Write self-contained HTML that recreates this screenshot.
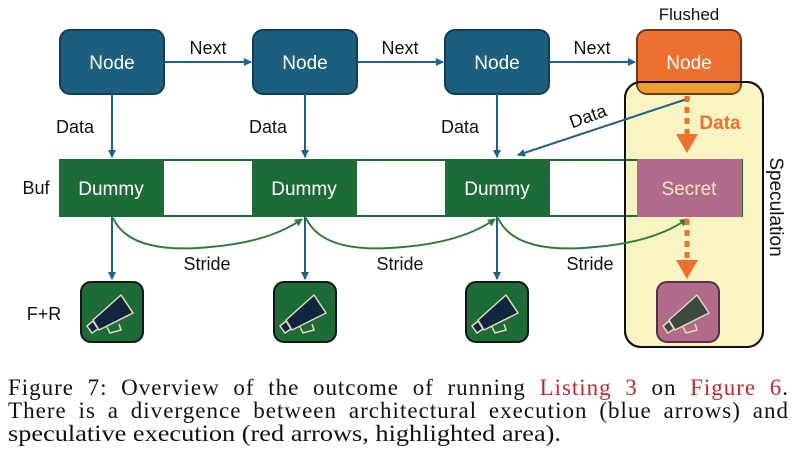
<!DOCTYPE html>
<html><head><meta charset="utf-8"><style>
html,body{margin:0;padding:0;background:#fff;}
svg{display:block;}
</style></head><body>
<svg width="796" height="471" viewBox="0 0 796 471" xmlns="http://www.w3.org/2000/svg" font-family="Liberation Sans, sans-serif">
<defs>
<marker id="ab" markerWidth="8" markerHeight="8" refX="7" refY="4" orient="auto" markerUnits="userSpaceOnUse"><path d="M0,0 L8,4 L0,8 z" fill="#1e6385"/></marker>
<marker id="ag" markerWidth="8" markerHeight="8" refX="7" refY="4" orient="auto" markerUnits="userSpaceOnUse"><path d="M0,0 L8,4 L0,8 z" fill="#2e7a3a"/></marker>
<g id="mega">
<polygon points="12,38 40,13 52,31 18,48" fill="#0f2540" stroke="#e8d9b8" stroke-width="1.5" stroke-linejoin="round"/>
<polygon points="6,44 12,39 17,47 11,51" fill="#0f2540" stroke="#e8d9b8" stroke-width="1.5"/>
<path d="M26,45 l3,6 l11,-3 l-2,-6" fill="none" stroke="#e8d9b8" stroke-width="1.5"/>
</g>
<g id="mega2">
<polygon points="12,38 40,13 52,31 18,48" fill="#3a4a42" stroke="#e8d9b8" stroke-width="1.5" stroke-linejoin="round"/>
<polygon points="6,44 12,39 17,47 11,51" fill="#3a4a42" stroke="#e8d9b8" stroke-width="1.5"/>
<path d="M26,45 l3,6 l11,-3 l-2,-6" fill="none" stroke="#e8d9b8" stroke-width="1.5"/>
</g>
</defs>

<rect x="625" y="82" width="138" height="265" rx="16" fill="#f8f5c3" stroke="#111" stroke-width="2"/>

<g stroke="#113d55" stroke-width="2">
<rect x="60" y="30" width="104" height="64" rx="10" fill="#1b5e7e"/>
<rect x="253" y="30" width="104" height="64" rx="10" fill="#1b5e7e"/>
<rect x="445" y="30" width="104" height="64" rx="10" fill="#1b5e7e"/>
</g>
<rect x="637" y="30" width="104" height="64" rx="10" fill="#ec7130" stroke="#6e3a1a" stroke-width="2"/>
<path d="M638,82 L740,82 L740,84 Q740,93 730,93 L648,93 Q638,93 638,84 Z" fill="#f19a30"/>
<rect x="625" y="82" width="138" height="265" rx="16" fill="none" stroke="#111" stroke-width="2"/>
<g fill="#fff" font-size="19" text-anchor="middle">
<text x="112" y="69">Node</text><text x="305" y="69">Node</text><text x="497" y="69">Node</text><text x="689" y="69">Node</text>
</g>
<text x="689" y="20" font-size="17" text-anchor="middle" fill="#111">Flushed</text>

<g stroke="#1e6385" stroke-width="2" marker-end="url(#ab)">
<line x1="164" y1="62" x2="251" y2="62"/>
<line x1="357" y1="62" x2="443" y2="62"/>
<line x1="549" y1="62" x2="635" y2="62"/>
</g>
<g font-size="18" fill="#111" text-anchor="middle">
<text x="208" y="54">Next</text><text x="400" y="54">Next</text><text x="592" y="54">Next</text>
<text x="75" y="133">Data</text><text x="268" y="133">Data</text><text x="460" y="133">Data</text>
<text x="207" y="270">Stride</text><text x="400" y="270">Stride</text><text x="590" y="270">Stride</text>
<text x="36" y="194">Buf</text><text x="44" y="320">F+R</text>
</g>
<text x="0" y="0" font-size="18" fill="#111" text-anchor="middle" transform="translate(590,122) rotate(-20)">Data</text>
<text x="0" y="0" font-size="19" fill="#111" text-anchor="middle" transform="translate(770,207) rotate(90)">Speculation</text>

<g stroke="#1e6385" stroke-width="2" marker-end="url(#ab)">
<line x1="112" y1="94" x2="112" y2="157"/>
<line x1="305" y1="94" x2="305" y2="157"/>
<line x1="497" y1="94" x2="497" y2="157"/>
<line x1="690" y1="98" x2="518" y2="155"/>
<line x1="112" y1="217" x2="112" y2="279"/>
<line x1="305" y1="217" x2="305" y2="279"/>
<line x1="497" y1="217" x2="497" y2="279"/>
</g>

<rect x="60" y="160" width="682" height="56" fill="none" stroke="#1e6b37" stroke-width="2"/>
<rect x="164" y="161" width="88" height="54" fill="#fff"/>
<rect x="357" y="161" width="88" height="54" fill="#fff"/>
<rect x="550" y="161" width="75" height="54" fill="#fff"/>
<g fill="#1d6b37">
<rect x="59" y="159" width="105" height="58"/>
<rect x="252" y="159" width="105" height="58"/>
<rect x="445" y="159" width="105" height="58"/>
</g>
<line x1="625" y1="159" x2="625" y2="217" stroke="#111" stroke-width="2"/>
<rect x="637" y="159" width="105" height="58" fill="#b06a8a"/>
<g fill="#fff" font-size="19" text-anchor="middle">
<text x="111" y="195">Dummy</text><text x="304" y="195">Dummy</text><text x="497" y="195">Dummy</text>
</g>
<text x="689" y="195" font-size="19" text-anchor="middle" fill="#f3e6c0">Secret</text>

<g fill="none" stroke="#2e7a3a" stroke-width="2" marker-end="url(#ag)">
<path d="M113,218 Q130,255 210,247 Q270,242 302,219"/>
<path d="M306,218 Q323,255 403,247 Q463,242 495,219"/>
<path d="M498,218 Q515,255 595,247 Q655,242 687,219"/>
</g>

<g stroke="#ec7130" stroke-width="5" stroke-dasharray="6,5">
<line x1="687" y1="96" x2="687" y2="134"/>
<line x1="687" y1="219" x2="687" y2="260"/>
</g>
<polygon points="676,134 698,134 687,153" fill="#ec7130"/>
<polygon points="676,260 698,260 687,279" fill="#ec7130"/>
<text x="720" y="129" font-size="19" font-weight="bold" fill="#ec7130" text-anchor="middle">Data</text>

<g stroke="#161616" stroke-width="2">
<rect x="81" y="282" width="62" height="60" rx="10" fill="#1d6b37"/>
<rect x="274" y="282" width="62" height="60" rx="10" fill="#1d6b37"/>
<rect x="466" y="282" width="62" height="60" rx="10" fill="#1d6b37"/>
<rect x="657" y="282" width="62" height="60" rx="10" fill="#b06a8a" stroke="#5a3040"/>
</g>
<use href="#mega" x="81" y="282"/>
<use href="#mega" x="274" y="282"/>
<use href="#mega" x="466" y="282"/>
<use href="#mega2" x="657" y="282"/>

<g font-family="Liberation Serif, serif" font-size="23" fill="#111">
<text x="8" y="395" word-spacing="7" textLength="780" lengthAdjust="spacing">Figure 7: Overview of the outcome of running <tspan fill="#c0282d">Listing 3</tspan> on <tspan fill="#c0282d">Figure 6</tspan>.</text>
<text x="8" y="418" word-spacing="5" textLength="780" lengthAdjust="spacing">There is a divergence between architectural execution (blue arrows) and</text>
<text x="8" y="441" textLength="553" lengthAdjust="spacingAndGlyphs">speculative execution (red arrows, highlighted area).</text>
</g>
</svg>
</body></html>
